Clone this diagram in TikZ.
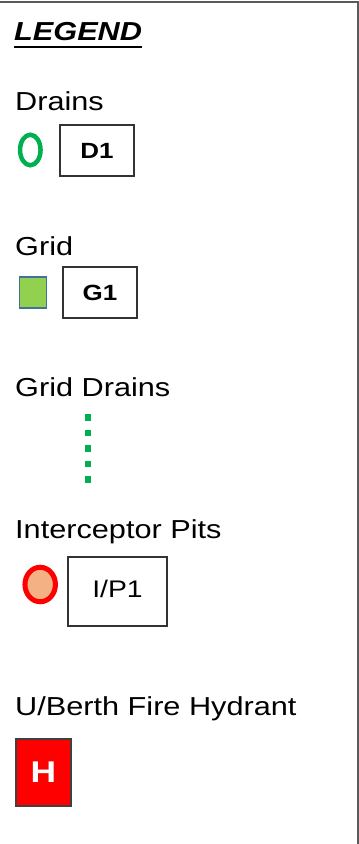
\documentclass[tikz,border=0pt]{standalone}
\usepackage{fontspec}
\setmainfont{Liberation Sans}[FakeStretch=1.18]
\definecolor{legendgreen}{RGB}{0,176,80}
\definecolor{gridgreen}{RGB}{146,208,80}
\definecolor{gridedge}{RGB}{65,113,156}
\definecolor{pitfill}{RGB}{244,177,131}
\definecolor{frameline}{RGB}{90,90,90}
\usetikzlibrary{shapes.geometric}

\begin{document}
\begin{tikzpicture}[x=1pt, y=-1pt, every node/.style={inner sep=0pt},
    lbl/.style={anchor=base west, font=\fontsize{26}{30}\selectfont},
    tagbox/.style={draw=black!80, line width=1.2pt, minimum width=74pt, minimum height=51pt,
                   font=\fontsize{22}{26}\selectfont\bfseries}]
  \useasboundingbox (0,0) rectangle (359,844);
  % frame
  \draw[frameline, line width=2pt] (0,2) -- (357.5,2) -- (357.5,844);
  % title
  \node[lbl, font=\fontsize{26}{30}\selectfont\bfseries\itshape] (legend) at (14,40) {LEGEND};
  \draw[line width=2.5pt] ([yshift=-7pt]legend.base west) -- ([yshift=-7pt]legend.base east);
  % headings
  \foreach \nm/\y/\lbl in {drains/110/Drains, grid/255/Grid, griddrains/396/Grid Drains,
                           pits/538/Interceptor Pits, hydrant/715/{U/Berth Fire Hydrant}}
    \node[lbl] (\nm) at (15,\y) {\lbl};
  % symbols
  \node[ellipse, draw=legendgreen, line width=4.5pt, minimum width=20.5pt, minimum height=30.5pt]
    (draincirc) at (30.3,150) {};
  \node[tagbox] (d1) at (97,150.5) {D1};
  \node[draw=gridedge, fill=gridgreen, line width=1.5pt, minimum width=27pt, minimum height=31pt]
    (gridsq) at (33,292.3) {};
  \node[tagbox] (g1) at (100,292.5) {G1};
  \draw[legendgreen, line width=6pt, dash pattern=on 6.5pt off 9pt] (88,414) -- (88,483);
  \node[ellipse, draw=red, fill=pitfill, line width=5pt, minimum width=30.5pt, minimum height=34.5pt]
    (pitcirc) at (40.2,584.5) {};
  \node[tagbox, minimum width=99pt, minimum height=69pt, font=\fontsize{24}{28}\selectfont]
    (ip1) at (117.5,591.5) {\raisebox{5pt}{I/P1}};
  \node[draw=black!75, fill=red, line width=1.5pt, minimum width=55pt, minimum height=67pt,
        text=white, font=\fontsize{30}{34}\selectfont\bfseries] (hbox) at (43.5,772.5) {H};
\end{tikzpicture}
\end{document}
